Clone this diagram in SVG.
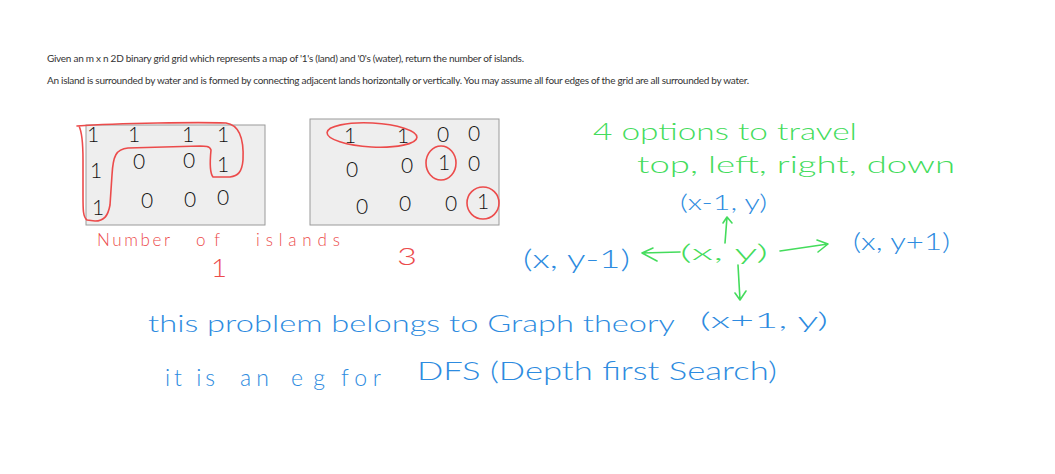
<svg xmlns="http://www.w3.org/2000/svg" width="1055" height="474" viewBox="0 0 1055 474">
<style>
.prob{font-family:Lato,"Liberation Sans",sans-serif;font-size:10px;fill:#333}
.hw{font-family:Lato,"Open Sans","Liberation Sans",sans-serif;font-weight:300}
.red{fill:#ec4b4b}
.green{fill:#44dc5c}
.blue{fill:#2d8be0}
.dig{font-family:Lato,"Liberation Sans",sans-serif;font-weight:300;font-size:21px;fill:#111;text-anchor:middle}
.grid{fill:#eeeeee;stroke:#9a9a9a;stroke-width:1}
.loop{fill:none;stroke:#ec4b4b;stroke-width:1.6;stroke-linecap:round;stroke-linejoin:round}
.garrow{fill:none;stroke:#44dc5c;stroke-width:1.6;stroke-linecap:round;stroke-linejoin:round}
</style>
<rect width="1055" height="474" fill="#ffffff"/>
<g id="problem">
<text class="prob" x="47" y="62" textLength="477" lengthAdjust="spacing">Given an m x n 2D binary grid grid which represents a map of '1's (land) and '0's (water), return the number of islands.</text>
<text class="prob" x="47" y="84" textLength="702" lengthAdjust="spacing">An island is surrounded by water and is formed by connecting adjacent lands horizontally or vertically. You may assume all four edges of the grid are all surrounded by water.</text>
</g>
<g id="grid1">
<rect class="grid" x="86" y="125" width="179" height="100"/>
<text class="dig" x="93" y="142">1</text>
<text class="dig" x="134" y="142">1</text>
<text class="dig" x="188" y="142">1</text>
<text class="dig" x="223" y="142">1</text>
<text class="dig" x="96" y="178">1</text>
<text class="dig" x="139" y="169">0</text>
<text class="dig" x="189" y="168">0</text>
<text class="dig" x="223" y="172">1</text>
<text class="dig" x="98" y="215">1</text>
<text class="dig" x="147" y="208">0</text>
<text class="dig" x="190" y="207">0</text>
<text class="dig" x="223" y="205">0</text>
<path class="loop" d="M77,126 C120,123 200,122 226,123 C240,125 244,140 243,160 C242,172 238,176 230,177 L213,177 C209,172 210,160 211,150 C210,146 205,146 200,146 L128,148 C116,149 113,156 112,175 L110,205 C108,216 104,221 95,221 L87,220 C83,217 83,210 83,195 L83,160 C83,140 81,130 79,126"/>
</g>
<g id="grid2">
<rect class="grid" x="310" y="119" width="189" height="106"/>
<text class="dig" x="350" y="143">1</text>
<text class="dig" x="403" y="143">1</text>
<text class="dig" x="443" y="142">0</text>
<text class="dig" x="474" y="141">0</text>
<text class="dig" x="352" y="177">0</text>
<text class="dig" x="407" y="173">0</text>
<text class="dig" x="444" y="170">1</text>
<text class="dig" x="474" y="171">0</text>
<text class="dig" x="362" y="214">0</text>
<text class="dig" x="405" y="211">0</text>
<text class="dig" x="451" y="211">0</text>
<text class="dig" x="483" y="209">1</text>
<ellipse class="loop" cx="372" cy="135" rx="45" ry="12" transform="rotate(3 372 135)"/>
<ellipse class="loop" cx="441" cy="163" rx="15" ry="17"/>
<ellipse class="loop" cx="483" cy="203" rx="16" ry="16"/>
</g>
<g id="labels">
<text class="hw red" x="97" y="246" font-size="17" textLength="73" lengthAdjust="spacing">Number</text>
<text class="hw red" x="196" y="246" font-size="17" textLength="24" lengthAdjust="spacing">of</text>
<text class="hw red" x="256" y="246" font-size="17" textLength="84" lengthAdjust="spacing">islands</text>
<text class="hw red" x="211" y="277" font-size="25" textLength="16" lengthAdjust="spacingAndGlyphs">1</text>
<text class="hw red" x="397" y="265" font-size="23" textLength="20" lengthAdjust="spacingAndGlyphs">3</text>
</g>
<g id="notes">
<text class="hw green" x="593" y="140" font-size="23" textLength="264" lengthAdjust="spacingAndGlyphs">4 options to travel</text>
<text class="hw green" x="637" y="173" font-size="23" textLength="318" lengthAdjust="spacingAndGlyphs">top, left, right, down</text>
</g>
<g id="node-center">
<text class="hw green" x="680" y="260" font-size="21" textLength="88" lengthAdjust="spacingAndGlyphs">(x, y)</text>
</g>
<g id="node-up">
<text class="hw blue" x="680" y="210" font-size="21" textLength="87" lengthAdjust="spacingAndGlyphs">(x-1, y)</text>
</g>
<g id="node-left">
<text class="hw blue" x="523" y="268" font-size="25" textLength="107" lengthAdjust="spacingAndGlyphs">(x, y-1)</text>
</g>
<g id="node-right">
<text class="hw blue" x="853" y="250" font-size="23" textLength="97" lengthAdjust="spacingAndGlyphs">(x, y+1)</text>
</g>
<g id="node-down">
<text class="hw blue" x="700" y="328" font-size="21" textLength="128" lengthAdjust="spacingAndGlyphs">(x+1, y)</text>
</g>
<g id="connectors">
<path class="garrow" d="M725,243 L727,217 M723,223 L727,217 L732,223"/>
<path class="garrow" d="M680,252 L642,253 M653,248 L642,253 L657,261"/>
<path class="garrow" d="M780,251 L828,244 M817,240 L828,244 L818,252"/>
<path class="garrow" d="M738,265 L740,300 M735,293 L740,300 L746,291"/>
</g>
<g id="summary">
<text class="hw blue" x="148" y="332" font-size="23" textLength="527" lengthAdjust="spacingAndGlyphs">this problem belongs to Graph theory</text>
<text class="hw blue" x="165" y="386" font-size="23" textLength="50" lengthAdjust="spacing">it is</text>
<text class="hw blue" x="240" y="386" font-size="23" textLength="29" lengthAdjust="spacing">an</text>
<text class="hw blue" x="291" y="386" font-size="23" textLength="34" lengthAdjust="spacing">eg</text>
<text class="hw blue" x="341" y="386" font-size="23" textLength="40" lengthAdjust="spacing">for</text>
<text class="hw blue" x="417" y="380" font-size="25" textLength="360" lengthAdjust="spacingAndGlyphs">DFS (Depth first Search)</text>
</g>
</svg>
